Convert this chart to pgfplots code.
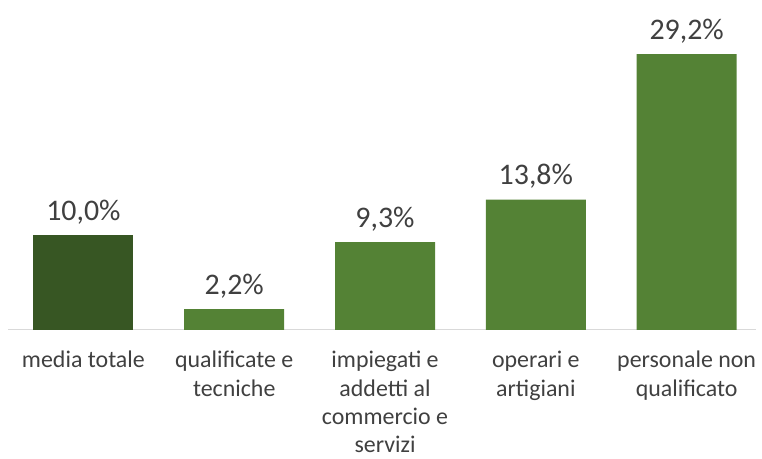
\documentclass[border=0pt]{standalone}
\usepackage{pgfplots}
\pgfplotsset{compat=1.18}
\usepackage{fontspec}
\setmainfont{Carlito}
\definecolor{dg}{HTML}{375623}
\definecolor{lg}{HTML}{548235}
\definecolor{tx}{HTML}{404040}
\definecolor{ax}{HTML}{D9D9D9}
\begin{document}
\begin{tikzpicture}[x=1bp,y=1bp]
\useasboundingbox (0,0) rectangle (762,459);
\begin{axis}[
  at={(8bp,129bp)}, anchor=south west,
  scale only axis, width=748bp, height=330bp,
  ymin=0, ymax=34.92,
  xmin=-0.5, xmax=4.46,
  ybar, bar width=100bp, bar shift=0pt,
  axis y line=none,
  axis x line*=bottom,
  x axis line style={draw=ax, line width=1bp, -},
  xtick={0,1,2,3,4},
  major tick length=0pt,
  /pgf/number format/assume math mode=true,
  xticklabels={{media totale},{qualificate e\\tecniche},{impiegati e\\addetti al\\commercio e\\servizi},{operari e\\artigiani},{personale non\\qualificato}},
  xticklabel style={align=center, font=\fontsize{24}{28.5}\selectfont, text=tx, inner sep=0pt, anchor=north, yshift=-21bp},
  nodes near coords={\pgfmathprintnumber[fixed,fixed zerofill,precision=1,use comma,assume math mode=true]{\pgfplotspointmeta}\%},
  every node near coord/.append style={font=\fontsize{30}{36}\selectfont, text=tx, anchor=base, inner sep=0pt, yshift=15bp},
  clip=false,
]
\addplot[fill=dg, draw=none] coordinates {(0,10.0)};
\addplot[fill=lg, draw=none] coordinates {(1,2.2) (2,9.3) (3,13.8) (4,29.2)};
\end{axis}
\end{tikzpicture}
\end{document}
